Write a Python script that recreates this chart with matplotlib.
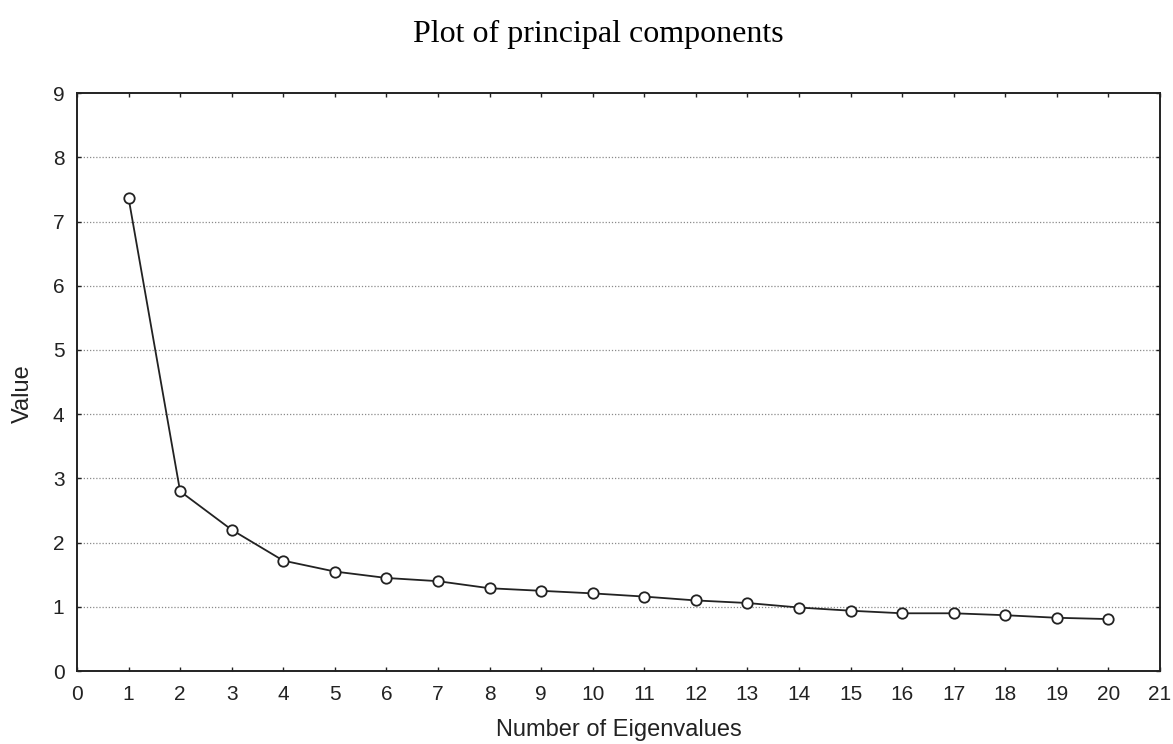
import numpy as np
import matplotlib
matplotlib.use("Agg")
import matplotlib.pyplot as plt

# eigenvalues
n_eigen = list(range(1, 21))
eigen_values = [7.37, 2.80, 2.20, 1.72, 1.55, 1.45, 1.40, 1.29, 1.25, 1.21,
                1.16, 1.10, 1.06, 0.99, 0.94, 0.90, 0.90, 0.87, 0.83, 0.81]
x_ticks = list(range(0, 22))
y_ticks = list(range(0, 10))

plt.rcParams['font.family'] = ['Liberation Sans', 'DejaVu Sans']

fig = plt.figure(figsize=(11.73, 7.44), dpi=100)
ax = fig.add_axes([0.0656, 0.098, 0.9233, 0.7769])

for v in y_ticks[1:-1]:
    ax.axhline(v, color='#8a8a8a', lw=0.9, ls=(0, (1, 1.5)), zorder=1)

ax.plot(n_eigen, eigen_values, color='#222222', lw=1.3, zorder=2,
        marker='o', markersize=7.5, markerfacecolor='white',
        markeredgecolor='#222222', markeredgewidth=1.3)

ax.set_xlim(0, 21)
ax.set_ylim(0, 9)
ax.set_xticks(x_ticks)
ax.set_yticks(y_ticks)
ax.tick_params(direction='in', top=True, right=True, length=3, width=1,
               labelsize=15, colors='#222222')
ax.tick_params(axis='x', pad=10)
ax.tick_params(axis='y', pad=9)
for s in ax.spines.values():
    s.set_linewidth(1.4)
    s.set_color('#222222')

ax.set_xlabel('Number of Eigenvalues', fontsize=17, labelpad=11, color='#222222')
ax.set_ylabel('Value', fontsize=17, color='#222222')
ax.yaxis.set_label_coords(-0.04, 0.48)
fig.text(0.51, 0.953, 'Plot of principal components', ha='center', va='center',
         fontsize=23, family=['Liberation Serif', 'DejaVu Serif'])

fig.savefig('out.png', dpi=100, facecolor='white')
